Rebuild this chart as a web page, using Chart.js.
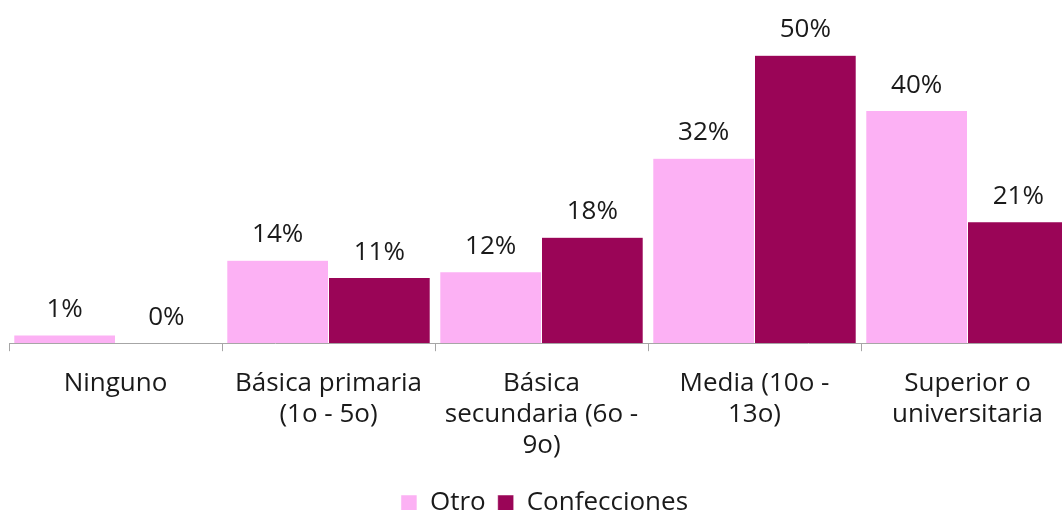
<!DOCTYPE html>
<html>
<head>
<meta charset="utf-8">
<script src="https://cdn.jsdelivr.net/npm/chart.js@4"></script>
<style>
  html, body { margin: 0; padding: 0; background: #fff; overflow: hidden; }
  #wrap { width: 1074px; height: 526px; }
</style>
</head>
<body>
<div id="wrap"><canvas id="chart"></canvas></div>
<script>
// categories and values (labels show the rounded %)
const categories = [
  "Ninguno",
  ["Básica primaria", "(1o - 5o)"],
  ["Básica", "secundaria (6o -", "9o)"],
  ["Media (10o -", "13o)"],
  ["Superior o", "universitaria"],
];
const otro = [1.4, 14.4, 12.4, 32.1, 40.4];
const confecciones = [0, 11.4, 18.4, 50, 21.1];
const seriesNames = ["Otro", "Confecciones"];

const FONT = "'Open Sans', 'Noto Sans', sans-serif";

// draw the % labels above each bar
const valueLabels = {
  id: "valueLabels",
  afterDatasetsDraw(chart) {
    const ctx = chart.ctx;
    ctx.save();
    ctx.font = "26px " + FONT;
    ctx.fillStyle = "#1a1a1a";
    ctx.textAlign = "center";
    ctx.textBaseline = "alphabetic";
    chart.data.datasets.forEach((ds, i) => {
      chart.getDatasetMeta(i).data.forEach((bar, j) => {
        ctx.fillText(Math.round(ds.data[j]) + "%", bar.x, bar.y - 18);
      });
    });
    ctx.restore();
  },
};

// nudge the legend a little right, as in the original
const legendShift = {
  id: "legendShift",
  afterLayout(chart) {
    chart.legend.left += 3;
    chart.legend.right += 3;
  },
};

new Chart(document.getElementById("chart"), {
  type: "bar",
  data: {
    labels: categories,
    datasets: [
      {
        label: seriesNames[0],
        data: otro,
        backgroundColor: "#fcb1f4",
        borderColor: "#ffffff",
        borderWidth: 0.5,
      },
      {
        label: seriesNames[1],
        data: confecciones,
        backgroundColor: "#9a0557",
        borderColor: "#ffffff",
        borderWidth: 0.5,
      },
    ],
  },
  options: {
    responsive: true,
    maintainAspectRatio: false,
    animation: false,
    categoryPercentage: 0.955,
    barPercentage: 1,
    layout: { padding: { left: 9, right: 0, top: 0, bottom: 0 } },
    scales: {
      x: {
        grid: {
          drawOnChartArea: false,
          drawTicks: true,
          tickLength: 8,
          color: "#a6a6a6",
        },
        border: { display: true, color: "#a6a6a6" },
        ticks: {
          color: "#1a1a1a",
          padding: 17,
          maxRotation: 0,
          autoSkip: false,
          font: { family: FONT, size: 26, lineHeight: 1.19 },
        },
      },
      y: {
        display: false,
        min: 0,
        max: 59.6,
      },
    },
    plugins: {
      tooltip: { enabled: false },
      legend: {
        position: "bottom",
        labels: {
          color: "#1a1a1a",
          boxWidth: 16,
          boxHeight: 16,
          padding: 12,
          font: { family: FONT, size: 26 },
        },
      },
    },
  },
  plugins: [valueLabels, legendShift],
});
</script>
</body>
</html>
